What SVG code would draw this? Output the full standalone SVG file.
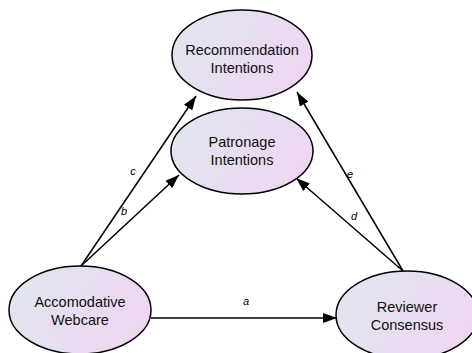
<svg xmlns="http://www.w3.org/2000/svg" width="472" height="353" viewBox="0 0 472 353">
<defs>
<linearGradient id="g" x1="0" y1="0.3" x2="1" y2="0.7">
<stop offset="0" stop-color="#e1e5ef"/>
<stop offset="1" stop-color="#efd5f2"/>
</linearGradient>
<marker id="ah" markerWidth="14" markerHeight="10" refX="14" refY="5" orient="auto" markerUnits="userSpaceOnUse">
<path d="M0,0 L14,5 L0,10 Z" fill="#000"/>
</marker>
<style>
.node ellipse{fill:url(#g);stroke:#000;stroke-width:1.5}
.node text{font-family:"Liberation Sans",Arial,sans-serif;font-size:14.5px;fill:#111;text-anchor:middle}
.edges line{stroke:#000;stroke-width:1.5;marker-end:url(#ah)}
.lbl{font-family:"Liberation Sans",Arial,sans-serif;font-size:11px;font-style:italic;fill:#000;text-anchor:middle}
</style>
</defs>
<rect width="472" height="353" fill="#fff"/>
<g id="connectors" class="edges">
<line x1="81" y1="266" x2="196" y2="96"/>
<line x1="81" y1="266" x2="179" y2="175"/>
<line x1="403" y1="271" x2="297" y2="92"/>
<line x1="403" y1="271" x2="296" y2="178"/>
<line x1="151" y1="318" x2="337" y2="318"/>
<text class="lbl" x="133" y="175">c</text>
<text class="lbl" x="124" y="215">b</text>
<text class="lbl" x="350" y="178">e</text>
<text class="lbl" x="354" y="220">d</text>
<text class="lbl" x="246" y="305">a</text>
</g>
<g id="recommendation" class="node">
<ellipse cx="242" cy="55" rx="70" ry="45"/>
<text x="242" y="55">Recommendation</text>
<text x="242" y="73">Intentions</text>
</g>
<g id="patronage" class="node">
<ellipse cx="242" cy="151" rx="71" ry="43"/>
<text x="242" y="147">Patronage</text>
<text x="242" y="165">Intentions</text>
</g>
<g id="webcare" class="node">
<ellipse cx="80" cy="310" rx="71" ry="44"/>
<text x="80" y="307">Accomodative</text>
<text x="80" y="325">Webcare</text>
</g>
<g id="consensus" class="node">
<ellipse cx="407" cy="315" rx="71" ry="44"/>
<text x="407" y="312">Reviewer</text>
<text x="407" y="330">Consensus</text>
</g>
</svg>
